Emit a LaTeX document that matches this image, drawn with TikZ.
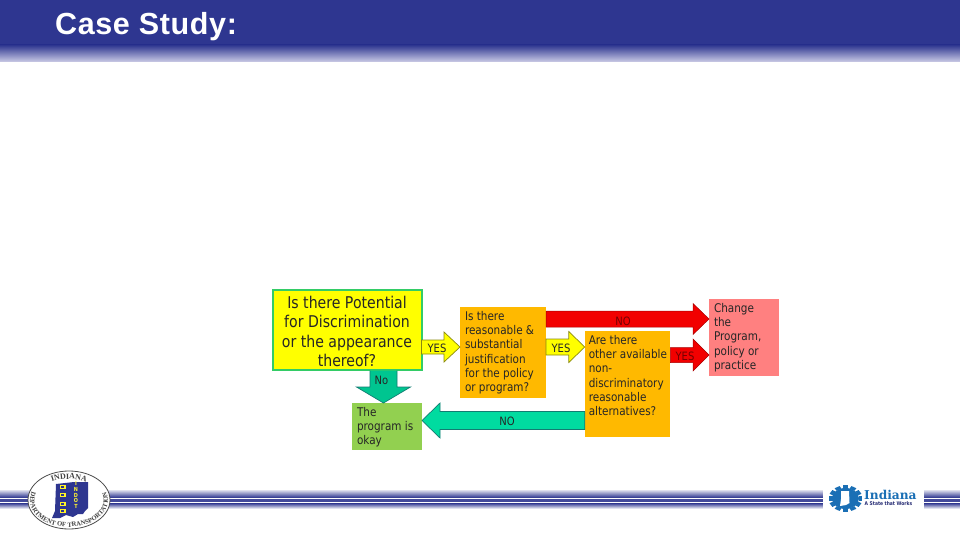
\documentclass[tikz,border=0pt]{standalone}
\usepackage{fontspec}
\setmainfont[FakeStretch=0.87]{DejaVu Sans}
\newfontfamily\titlefont[LetterSpace=2]{Liberation Sans}
\newfontfamily\serfont{DejaVu Serif}
\newfontfamily\sealfont{Liberation Serif}
\usetikzlibrary{calc,decorations.text,shapes.geometric}
\definecolor{hdr}{HTML}{2E3690}
\definecolor{hdrend}{HTML}{CCCCE6}
\definecolor{qyellow}{HTML}{FFFF00}
\definecolor{qborder}{HTML}{33CC66}
\definecolor{qorange}{HTML}{FFB900}
\definecolor{qgreen}{HTML}{92D050}
\definecolor{qpink}{HTML}{FF8080}
\definecolor{ateal}{HTML}{00DBA0}
\definecolor{ateald}{HTML}{127C72}
\definecolor{ared}{HTML}{F20000}
\definecolor{aredd}{HTML}{A80000}
\definecolor{ayeld}{HTML}{8A8A10}
\definecolor{gearblue}{HTML}{1A6FB5}
\tikzset{
 qbox/.style={inner sep=0pt,outer sep=0pt,text=black!85},
 tealarrow/.style={fill=ateal,draw=ateald,line width=.7pt,line join=miter},
 redarrow/.style={fill=ared,draw=aredd,line width=.5pt},
 yelarrow/.style={fill=qyellow,draw=ayeld,line width=.7pt},
 alabel/.style={inner sep=0pt,font=\fontsize{11.5}{13}\selectfont,text=black!85},
 redlabel/.style={alabel,text=red!45!black},
}
% \hblock{style}{from}{to}{y}{shaft half}{head half}{head length (signed)}
\newcommand\hblock[7]{%
 \coordinate (ha) at (#2 |- 0,#4);
 \coordinate (hb) at (#3 |- 0,#4);
 \draw[#1] ($(ha)+(0,-#5)$) -- ($(hb)+(-#7,-#5)$) -- ($(hb)+(-#7,-#6)$) -- (hb)
   -- ($(hb)+(-#7,#6)$) -- ($(hb)+(-#7,#5)$) -- ($(ha)+(0,#5)$) -- cycle;}
% text of a box: width, height, top pad
\newcommand\boxtext[5]{\parbox[c][#2pt][t]{#1pt}{\vspace*{#3pt}\fontsize{#4}{14.3}\selectfont\raggedright #5}}
\begin{document}
\begin{tikzpicture}[x=1pt,y=-1pt]
\useasboundingbox (0,0) rectangle (960,540);
\fill[white] (0,0) rectangle (960,540);
% header
\fill[hdr] (0,0) rectangle (960,45);
\shade[top color=hdr,bottom color=hdrend] (0,45) rectangle (960,62);
\node[anchor=base west,inner sep=0pt,text=white] (title) at (55,35)
  {\titlefont\bfseries\fontsize{30.5}{32}\selectfont Case Study:};
% footer band
\foreach \xa/\xb in {0/110,110/823,924/960}{
 \shade[top color=hdr!15,bottom color=hdr] (\xa,490) rectangle (\xb,497.5);
 \fill[white] (\xa,497.5) rectangle (\xb,499);
 \fill[hdr!90] (\xa,499) rectangle (\xb,502);
 \fill[white] (\xa,502) rectangle (\xb,503);
 \shade[top color=hdr,bottom color=hdr!15] (\xa,503) rectangle (\xb,508);
}
% nodes of the chart
\node[qbox,fill=qyellow,draw=qborder,line width=2pt] (q1) at (347,329.5)
  {\parbox[c][80pt][t]{149pt}{\vspace*{6.5pt}\fontsize{16.2}{19.4}\selectfont\centering Is there Potential\\for Discrimination\\or the appearance\\thereof?}};
\node[qbox,fill=qorange] (q2) at (503,352.5)
  {\hspace*{5pt}\boxtext{81}{91}{4}{12}{Is there\\reasonable \&\\substantial\\justification\\for the policy\\or program?}};
\node[qbox,fill=qgreen] (ok) at (387,426.5)
  {\hspace*{5pt}\boxtext{65}{47}{4}{12}{The\\program is\\okay}};
\node[qbox,fill=qpink] (chg) at (744,337.5)
  {\hspace*{5pt}\boxtext{65}{77}{4}{12}{Change\\the\\Program,\\policy or\\practice}};
\node[qbox,fill=qorange] (q3) at (627.5,384)
  {\hspace*{4pt}\boxtext{81.5}{106}{4}{12}{Are there\\other available\\non-\\discriminatory\\reasonable\\alternatives?}};
% connectors
\hblock{tealarrow}{q3.west}{ok.east}{420.5}{9}{17.5}{-18}
\hblock{yelarrow}{q1.east}{q2.west}{347}{7}{15}{16}
\hblock{yelarrow}{q2.east}{q3.west}{347}{8}{15.5}{16}
\hblock{redarrow}{q2.east}{chg.west}{319}{8}{15.5}{16}
\hblock{redarrow}{q3.east}{chg.west}{355}{7.5}{16}{16}
\coordinate (va) at (q1.south -| 383.5,0);
\coordinate (vb) at (ok.north -| 383.5,0);
\draw[tealarrow,fill=ateal!90!black] ($(va)+(-13.5,1)$) -- ($(vb)+(-13.5,-16)$) -- ($(vb)+(-27,-16)$) -- (vb)
   -- ($(vb)+(27,-16)$) -- ($(vb)+(13.5,-16)$) -- ($(va)+(13.5,1)$);
% arrow labels
\node[alabel] (l1) at (437,348) {YES};
\node[alabel] (l2) at (561,348) {YES};
\node[redlabel] (l3) at (685,356) {YES};
\node[redlabel] (l4) at (623,321) {NO};
\node[alabel] (l5) at (507,421) {NO};
\node[alabel] (l6) at (381.5,380) {No};
% INDOT seal
\node[ellipse,draw=black!70,fill=white,line width=.8pt,minimum width=82pt,minimum height=58pt,inner sep=0pt] (seal) at (69,500) {};
\fill[hdr] (56,484) -- (74,482) -- (88,482) -- (88,508) -- (85,511) -- (83,514) -- (78,514) -- (73,517)
   -- (66,515) -- (60,518) -- (52,518) -- (55,511) -- cycle;
\foreach \yy in {487,495,504,511}{\fill[yellow!85!white] (59.5,\yy-2) rectangle (65.5,\yy+2);
   \fill[hdr] (61,\yy-.8) rectangle (64,\yy+.8);}
\node[inner sep=0pt,align=center,text=yellow!80!white,font=\bfseries\fontsize{5.6}{5.9}\selectfont] (indot) at (76,495) {I\\N\\D\\O\\T};
\begin{scope}[shift={(69,500)},y=1pt]
 \path[decorate,decoration={text along path,text align=center,
   text={|\sealfont\fontsize{8}{9}\selectfont\bfseries\color{black!75}|INDIANA}}]
   (150:34 and 21) arc[start angle=150,end angle=30,x radius=34,y radius=21];
 \path[decorate,decoration={text along path,text align=center,
   text={|\sealfont\fontsize{6.6}{8}\selectfont\bfseries\color{black!75}|DEPARTMENT OF TRANSPORTATION}}]
   (150:39 and 27) arc[start angle=150,end angle=390,x radius=39,y radius=27];
\end{scope}
% Indiana logo
\fill[white] (823,486) rectangle (924,511);
\foreach \a in {0,30,...,330}{
 \fill[gearblue,shift={(845.5,498.5)},yscale=.78,rotate=\a] (13,-2.8) rectangle (16.8,2.8);}
\fill[gearblue] (845.5,498.5) ellipse[x radius=13.5,y radius=10.5];
\fill[white] (841,491) -- (849,491) -- (849.5,503) -- (846,505) -- (840,506) -- (841,499) -- cycle;
\node[anchor=base west,inner sep=0pt,text=gearblue,font=\serfont\bfseries\fontsize{12.2}{13}\selectfont] (inlogo) at (864,499.5) {Indiana};
\node[anchor=base west,inner sep=0pt,text=hdr!80!black,font=\bfseries\fontsize{5.1}{6}\selectfont] (instate) at (864.5,505.5) {A State that Works};
\end{tikzpicture}
\end{document}
